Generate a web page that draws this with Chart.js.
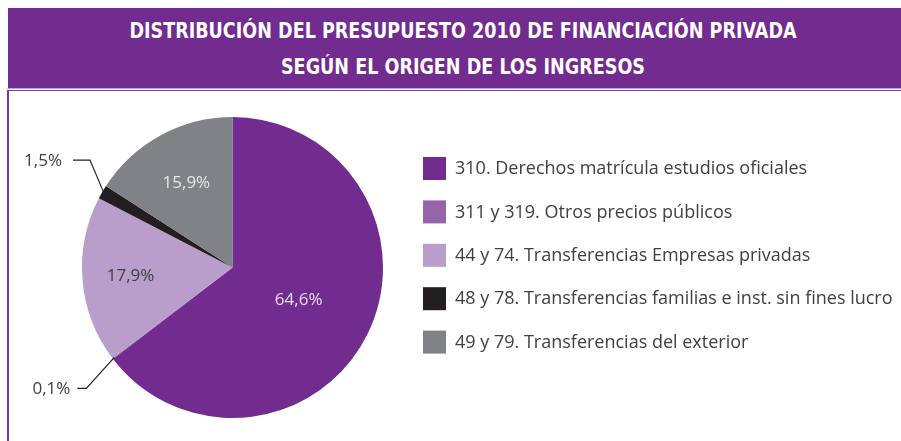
<!DOCTYPE html>
<html>

<head>
    <meta charset="utf-8">
    <title>Financiación privada 2010</title>
    <script src="https://cdn.jsdelivr.net/npm/chart.js"></script>
    <style>
        body {
            margin: 0;
            width: 901px;
            height: 441px;
            overflow: hidden;
            background: #fff;
            position: relative;
        }

        .header {
            position: absolute;
            left: 8px;
            top: 8px;
            width: 893px;
            height: 80px;
            background: #722b8e;
            color: #fff;
            font-family: "DejaVu Sans Condensed", Roboto, sans-serif;
            font-weight: bold;
            font-size: 21px;
            text-align: center;
        }

        .header div {
            position: absolute;
            left: 0;
            width: 910px;
            line-height: 20px;
            transform: scaleX(0.93);
            transform-origin: 455px 0;
        }

        .frame {
            position: absolute;
            left: 7px;
            top: 88px;
            width: 894px;
            height: 353px;
            border-top: 1px solid #c4a3d3;
        }

        .frame-inner {
            position: absolute;
            left: 0;
            top: 1px;
            width: 894px;
            height: 352px;
            border-top: 1px solid #7d3a98;
            border-left: 2px solid #7d3a98;
        }

        canvas {
            position: absolute;
            left: 0;
            top: 0;
        }
    </style>
</head>

<body>
    <div class="header">
        <div style="top: 13px;">DISTRIBUCIÓN DEL PRESUPUESTO 2010 DE FINANCIACIÓN PRIVADA</div>
        <div style="top: 49px;">SEGÚN EL ORIGEN DE LOS INGRESOS</div>
    </div>
    <div class="frame"><div class="frame-inner"></div></div>
    <canvas id="pieChart" width="901" height="441"></canvas>

    <script>
        // Budget shares by income origin (%)
        var categories = [
            '310. Derechos matrícula estudios oficiales',
            '311 y 319. Otros precios públicos',
            '44 y 74. Transferencias Empresas privadas',
            '48 y 78. Transferencias familias e inst. sin fines lucro',
            '49 y 79. Transferencias del exterior'
        ];
        var shares = [64.6, 0.1, 17.9, 1.5, 15.9];

        var sliceColors = ['#722b8e', '#9565aa', '#b99ecb', '#231f20', '#808285'];

        var labelFont = '17px "Open Sans", Roboto, sans-serif';
        var legendFont = '18px "Open Sans", Roboto, sans-serif';
        var textColor = '#404040';

        function pct(v) {
            return v.toFixed(1).replace('.', ',') + '%';
        }

        // Where each percentage goes: inside the slice at a fraction of the radius,
        // or outside with a leader line bending at an offset from the rim
        var labelSpots = [
            { inside: true, r: 0.49, color: '#eadff0' },
            { inside: false, bend: [-28, 31], tail: 9, gap: 7 },
            { inside: true, r: 0.68, color: '#404040' },
            { inside: false, bend: [-14, -33], tail: 17, gap: 11 },
            { inside: true, r: 0.64, color: '#e6e6e6' }
        ];

        var pieLabels = {
            id: 'pieLabels',
            afterDatasetsDraw: function (chart) {
                var ctx = chart.ctx;
                var arcs = chart.getDatasetMeta(0).data;
                var values = chart.data.datasets[0].data;
                ctx.save();
                ctx.font = labelFont;
                ctx.textBaseline = 'middle';
                arcs.forEach(function (arc, i) {
                    var spot = labelSpots[i];
                    var mid = (arc.startAngle + arc.endAngle) / 2;
                    var text = pct(values[i]);
                    if (spot.inside) {
                        var rr = arc.outerRadius * spot.r;
                        ctx.fillStyle = spot.color;
                        ctx.textAlign = 'center';
                        ctx.fillText(text, arc.x + rr * Math.cos(mid), arc.y + rr * Math.sin(mid));
                    } else {
                        var ex = arc.x + (arc.outerRadius - 2) * Math.cos(mid);
                        var ey = arc.y + (arc.outerRadius - 2) * Math.sin(mid);
                        var bx = ex + spot.bend[0];
                        var by = ey + spot.bend[1];
                        ctx.strokeStyle = '#231f20';
                        ctx.lineWidth = 1.2;
                        ctx.beginPath();
                        ctx.moveTo(ex, ey);
                        ctx.lineTo(bx, by);
                        ctx.lineTo(bx - spot.tail, by);
                        ctx.stroke();
                        ctx.fillStyle = textColor;
                        ctx.textAlign = 'right';
                        ctx.fillText(text, bx - spot.tail - spot.gap, by + 1);
                    }
                });
                ctx.restore();
            }
        };

        // Legend drawn on the right side of the canvas
        var sideLegend = {
            id: 'sideLegend',
            afterDraw: function (chart) {
                var ctx = chart.ctx;
                var labels = chart.data.labels;
                var colors = chart.data.datasets[0].backgroundColor;
                ctx.save();
                ctx.font = legendFont;
                ctx.textBaseline = 'middle';
                ctx.textAlign = 'left';
                labels.forEach(function (label, i) {
                    var top = 157 + i * 43.4;
                    ctx.fillStyle = colors[i];
                    ctx.fillRect(423, top, 23, 23);
                    ctx.fillStyle = textColor;
                    ctx.fillText(label, 455, top + 12);
                });
                ctx.restore();
            }
        };

        var pieCtx = document.getElementById('pieChart').getContext('2d');
        var pieChart = new Chart(pieCtx, {
            type: 'pie',
            data: {
                labels: categories,
                datasets: [{
                    data: shares,
                    backgroundColor: sliceColors,
                    borderWidth: 0,
                    hoverOffset: 0
                }]
            },
            options: {
                responsive: false,
                animation: false,
                layout: {
                    padding: { top: 117, bottom: 23, left: 82, right: 518 }
                },
                plugins: {
                    legend: { display: false },
                    tooltip: { enabled: false }
                }
            },
            plugins: [pieLabels, sideLegend]
        });
    </script>
</body>

</html>
